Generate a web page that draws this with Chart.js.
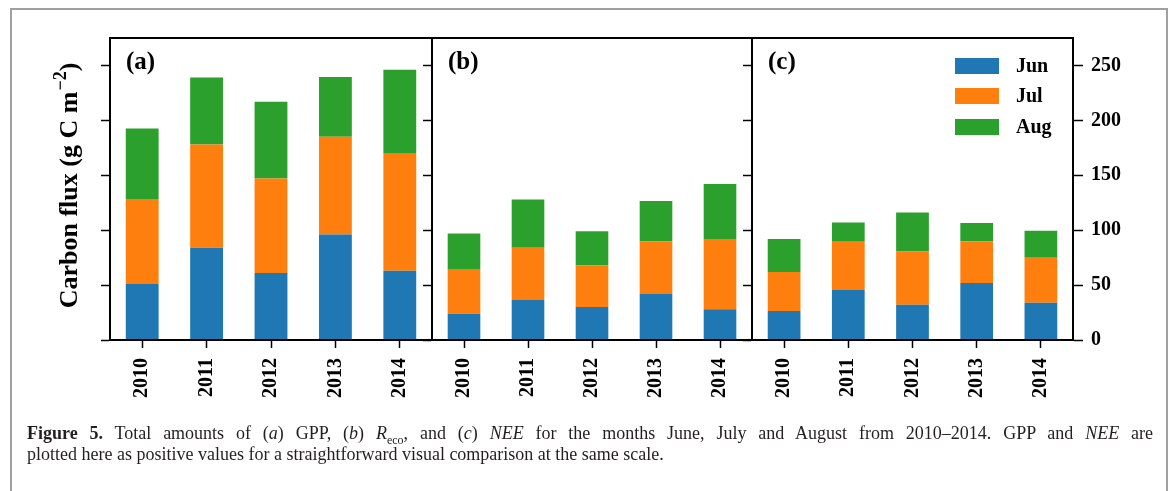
<!DOCTYPE html>
<html lang="en">
<head>
    <meta charset="UTF-8">
    <title>Figure 5</title>
    <script src="https://cdn.jsdelivr.net/npm/chart.js"></script>
    <style>
        body {
            margin: 0;
            background: white;
        }
        .figure {
            position: relative;
            width: 1170px;
            height: 491px;
            overflow: hidden;
            background: white;
        }
        .frame {
            position: absolute;
            left: 10px;
            top: 8px;
            width: 1154px;
            height: 520px;
            border: 2px solid #a0a0a0;
        }
        canvas {
            position: absolute;
            left: 0;
            top: 0;
        }
        .caption {
            position: absolute;
            left: 27px;
            top: 423px;
            width: 1126px;
            font-family: "Liberation Serif", serif;
            font-size: 18px;
            line-height: 21px;
            color: #231f20;
        }
        .caption .l1 {
            text-align: justify;
            text-align-last: justify;
            white-space: nowrap;
        }
        .caption sub {
            font-size: 12px;
            line-height: 0;
        }
    </style>
</head>
<body>
    <div class="figure">
        <div class="frame"></div>
        <canvas id="chartA" width="1170" height="491"></canvas>
        <canvas id="chartB" width="1170" height="491"></canvas>
        <canvas id="chartC" width="1170" height="491"></canvas>
        <div class="caption">
            <div class="l1"><b>Figure 5.</b> Total amounts of (<i>a</i>) GPP, (<i>b</i>) <i>R</i><sub>eco</sub>, and (<i>c</i>) <i>NEE</i> for the months June, July and August from 2010–2014. GPP and <i>NEE</i> are</div>
            <div>plotted here as positive values for a straightforward visual comparison at the same scale.</div>
        </div>
    </div>

    <script>
        // values (g C m-2)
        const years = ['2010', '2011', '2012', '2013', '2014'];
        const months = ['Jun', 'Jul', 'Aug'];
        const monthColors = ['#1f77b4', '#ff7f0e', '#2ca02c'];

        const gppJun = [51, 84, 61, 96, 63];
        const gppJul = [77.5, 94, 86, 89, 106.5];
        const gppAug = [64, 61, 70, 54.5, 76.5];

        const recoJun = [24, 36.5, 30, 42, 28];
        const recoJul = [40, 47.5, 38, 48, 64];
        const recoAug = [33, 44, 31, 36.5, 50];

        const neeJun = [26.5, 45.5, 32, 52, 34];
        const neeJul = [35.5, 44, 48.5, 38, 41];
        const neeAug = [30, 17.5, 35.5, 16.5, 24.5];

        const yTicks = [0, 50, 100, 150, 200, 250];
        const yMax = 275;

        const FONT = '"Liberation Serif", "Times New Roman", serif';

        // box around each panel
        const framePlugin = {
            id: 'panelFrame',
            afterDraw(chart) {
                const a = chart.chartArea;
                const ctx = chart.ctx;
                ctx.save();
                ctx.strokeStyle = '#000';
                ctx.lineWidth = 2;
                ctx.strokeRect(a.left, a.top, a.right - a.left, a.bottom - a.top);
                ctx.restore();
            }
        };

        const panelLabelPlugin = {
            id: 'panelLabel',
            afterDraw(chart, args, opts) {
                const a = chart.chartArea;
                const ctx = chart.ctx;
                ctx.save();
                ctx.fillStyle = '#000';
                ctx.font = 'bold 25px ' + FONT;
                ctx.textBaseline = 'middle';
                ctx.fillText(opts.text, a.left + 16, a.top + 25);
                ctx.restore();
            }
        };

        const yTitlePlugin = {
            id: 'yTitle',
            afterDraw(chart, args, opts) {
                if (!opts.show) return;
                const ctx = chart.ctx;
                const main = 'Carbon flux (g C m';
                const sup = '\u22122';
                const end = ')';
                ctx.save();
                ctx.fillStyle = '#000';
                ctx.translate(77, 186);
                ctx.rotate(-Math.PI / 2);
                ctx.textBaseline = 'alphabetic';
                ctx.font = 'bold 26px ' + FONT;
                const w1 = ctx.measureText(main).width;
                const w3 = ctx.measureText(end).width;
                ctx.font = 'bold 18px ' + FONT;
                const w2 = ctx.measureText(sup).width;
                let x = -(w1 + w2 + w3) / 2;
                ctx.font = 'bold 26px ' + FONT;
                ctx.fillText(main, x, 0);
                x += w1;
                ctx.font = 'bold 18px ' + FONT;
                ctx.fillText(sup, x + 1, -11);
                x += w2 + 1;
                ctx.font = 'bold 26px ' + FONT;
                ctx.fillText(end, x, 0);
                ctx.restore();
            }
        };

        const legendPlugin = {
            id: 'boxLegend',
            afterDraw(chart, args, opts) {
                if (!opts.show) return;
                const ctx = chart.ctx;
                const rowsY = [58, 88, 119];
                ctx.save();
                chart.data.datasets.forEach((ds, i) => {
                    ctx.fillStyle = ds.backgroundColor;
                    ctx.fillRect(955, rowsY[i], 44, 16);
                    ctx.fillStyle = '#000';
                    ctx.font = 'bold 20px ' + FONT;
                    ctx.textBaseline = 'middle';
                    ctx.fillText(ds.label, 1016, rowsY[i] + 9);
                });
                ctx.restore();
            }
        };

        function setTicks(scale) {
            scale.ticks = yTicks.map(v => ({ value: v }));
        }

        function makePanel(canvasId, label, jun, jul, aug, left, right, withRightAxis, withTitle) {
            const series = [jun, jul, aug];
            const scales = {
                x: {
                    stacked: true,
                    grid: { offset: false, drawOnChartArea: false, tickLength: 8, tickWidth: 1.5, color: '#000' },
                    border: { display: true, color: '#000', width: 2 },
                    ticks: {
                        color: '#000',
                        font: { family: FONT, size: 20, weight: 'bold' },
                        minRotation: 90,
                        maxRotation: 90,
                        padding: 10
                    },
                    afterFit: s => { s.height = 100; }
                },
                y: {
                    stacked: true,
                    min: 0,
                    max: yMax,
                    position: 'left',
                    grid: { drawOnChartArea: false, tickLength: 9, tickWidth: 1.5, color: '#000' },
                    border: { display: true, color: '#000', width: 2 },
                    ticks: { display: false },
                    afterBuildTicks: setTicks,
                    afterFit: s => { s.width = 9; }
                }
            };
            if (withRightAxis) {
                scales.y2 = {
                    min: 0,
                    max: yMax,
                    position: 'right',
                    grid: { drawOnChartArea: false, tickLength: 10, tickWidth: 1.5, color: '#000' },
                    border: { display: true, color: '#000', width: 2 },
                    ticks: {
                        color: '#000',
                        padding: 8,
                        font: { family: FONT, size: 20, weight: 'bold' }
                    },
                    afterBuildTicks: setTicks,
                    afterFit: s => { s.width = 60; }
                };
            }
            new Chart(document.getElementById(canvasId), {
                type: 'bar',
                data: {
                    labels: years,
                    datasets: months.map((m, i) => ({
                        label: m,
                        data: series[i],
                        backgroundColor: monthColors[i],
                        borderWidth: 0,
                        categoryPercentage: 1.0,
                        barPercentage: 0.51
                    }))
                },
                options: {
                    responsive: false,
                    animation: false,
                    events: [],
                    layout: {
                        autoPadding: false,
                        padding: { left: left, right: right, top: 38, bottom: 51 }
                    },
                    scales: scales,
                    plugins: {
                        legend: { display: false },
                        tooltip: { enabled: false },
                        panelLabel: { text: label },
                        yTitle: { show: withTitle },
                        boxLegend: { show: withRightAxis }
                    }
                },
                plugins: [framePlugin, panelLabelPlugin, yTitlePlugin, legendPlugin]
            });
        }

        makePanel('chartA', '(a)', gppJun, gppJul, gppAug, 101, 738, false, true);
        makePanel('chartB', '(b)', recoJun, recoJul, recoAug, 423, 418, false, false);
        makePanel('chartC', '(c)', neeJun, neeJul, neeAug, 743, 37, true, false);
    </script>
</body>
</html>
